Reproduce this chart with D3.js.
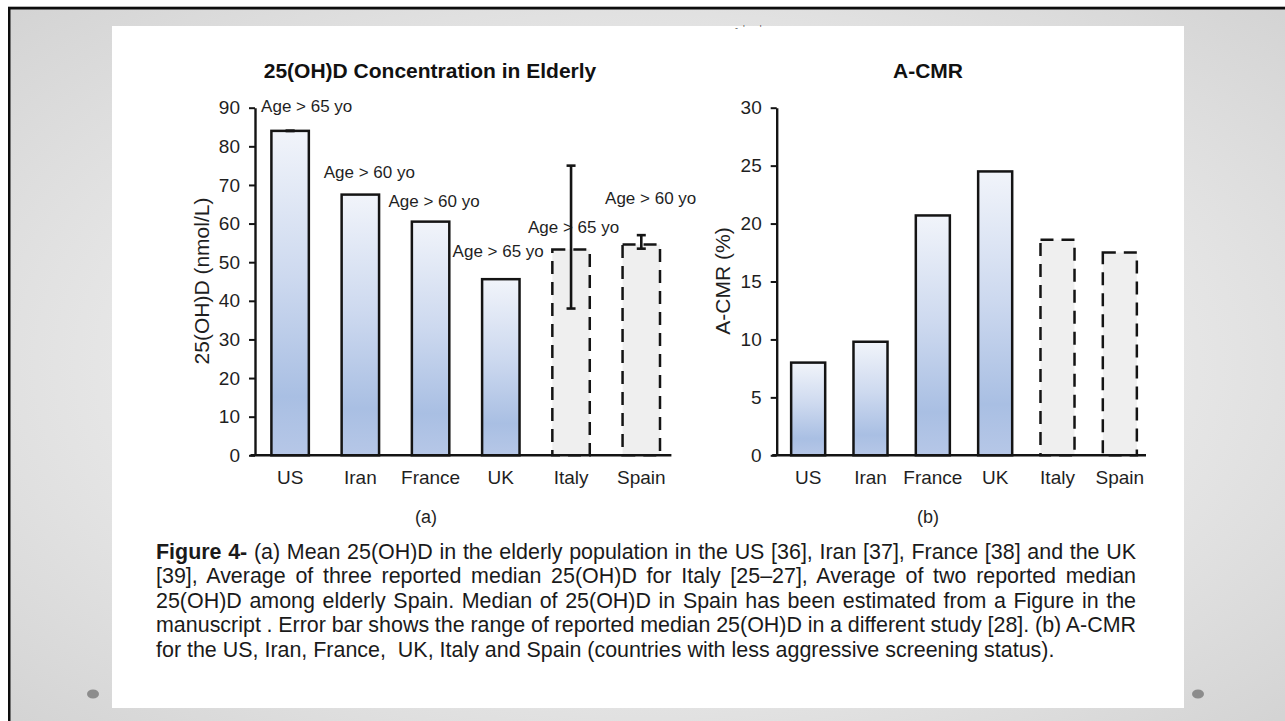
<!DOCTYPE html>
<html><head><meta charset="utf-8">
<script src="https://cdn.jsdelivr.net/npm/d3@7"></script>
<style>
html,body{margin:0;padding:0;background:#fff;}
svg{display:block;}
text{font-family:"Liberation Sans",Arial,Helvetica,sans-serif;}
</style>
</head><body>
<svg id="c" width="1285" height="721"></svg>
<script>
// ---------------- DATA ----------------
const categories = ["US", "Iran", "France", "UK", "Italy", "Spain"];
const estimated = [false, false, false, false, true, true];
const concValues = [84.0, 67.5, 60.5, 45.6, 53.3, 54.6];
const concErrLow = [84.0, null, null, null, 38.0, 53.5];
const concErrHigh = [84.0, null, null, null, 75.0, 57.0];
const ageLabels = ["Age > 65 yo", "Age > 60 yo", "Age > 60 yo", "Age > 65 yo", "Age > 65 yo", "Age > 60 yo"];
const acmrValues = [8.0, 9.8, 20.7, 24.5, 18.6, 17.5];
const concTicks = [0, 10, 20, 30, 40, 50, 60, 70, 80, 90];
const acmrTicks = [0, 5, 10, 15, 20, 25, 30];
const leftTitle = "25(OH)D Concentration in Elderly";
const rightTitle = "A-CMR";
const leftYTitle = "25(OH)D (nmol/L)";
const rightYTitle = "A-CMR (%)";
const captionLines = [
  [{b: true, t: "Figure 4-"}, {b: false, t: " (a) Mean 25(OH)D in the elderly population in the US [36], Iran [37], France [38] and the UK"}],
  [{b: false, t: "[39], Average of three reported median 25(OH)D for Italy [25\u201327], Average of two reported median"}],
  [{b: false, t: "25(OH)D among elderly Spain. Median of 25(OH)D in Spain has been estimated from a Figure in the"}],
  [{b: false, t: "manuscript . Error bar shows the range of reported median 25(OH)D in a different study [28]. (b) A-CMR"}],
  [{b: false, t: "for the US, Iran, France,  UK, Italy and Spain (countries with less aggressive screening status)."}]
];

// ---------------- LAYOUT ----------------
const ageLabelDx = [16.6, 9, 3.5, -2.6, 2.5, 9.4];
const ageLabelDy = [19.3, 17, 15, 21.7, 16.6, 40];
const ink = "#141414", txt = "#1f1f1f";

const svg = d3.select("#c");
const defs = svg.append("defs");
const bg = defs.append("radialGradient").attr("id", "bgGrad")
  .attr("cx", "50%").attr("cy", "50%").attr("r", "70%");
bg.append("stop").attr("offset", "0%").attr("stop-color", "#f3f3f3");
bg.append("stop").attr("offset", "55%").attr("stop-color", "#e8e8e8");
bg.append("stop").attr("offset", "100%").attr("stop-color", "#d4d4d4");
const bar = defs.append("linearGradient").attr("id", "barGrad")
  .attr("x1", 0).attr("y1", 0).attr("x2", 0).attr("y2", 1);
bar.append("stop").attr("offset", "0%").attr("stop-color", "#f1f4fa");
bar.append("stop").attr("offset", "45%").attr("stop-color", "#cdd9ef");
bar.append("stop").attr("offset", "82%").attr("stop-color", "#a9bfe3");
bar.append("stop").attr("offset", "100%").attr("stop-color", "#b6c7e7");

// slide background
svg.append("rect").attr("width", 1285).attr("height", 721).attr("fill", "#fff");
svg.append("rect").attr("x", 8).attr("y", 6.7).attr("width", 1277).attr("height", 715).attr("fill", "#0d0d0d");
svg.append("rect").attr("x", 10.5).attr("y", 9.5).attr("width", 1275).attr("height", 712).attr("fill", "url(#bgGrad)");
svg.append("rect").attr("x", 112).attr("y", 26).attr("width", 1072).attr("height", 682).attr("fill", "#fff");
svg.append("ellipse").attr("cx", 93).attr("cy", 694).attr("rx", 6).attr("ry", 4.6).attr("fill", "#8c8c8c");
svg.append("ellipse").attr("cx", 1198).attr("cy", 694).attr("rx", 6).attr("ry", 4.6).attr("fill", "#8c8c8c");
svg.append("text").attr("x", 735).attr("y", 31).attr("font-size", 9).attr("fill", "#555")
  .style("white-space", "pre").text("-  '      '");

function panel(cfg) {
  const g = svg.append("g");
  const x = d3.scaleBand().domain(categories).range(cfg.xr)
    .paddingInner(cfg.pad).paddingOuter(cfg.pad / 2);
  const y = d3.scaleLinear().domain([0, d3.max(cfg.ticks)]).range([455.3, 107.7]);
  const bw = x.bandwidth();

  // bars
  g.selectAll("rect.bar").data(categories).join("rect").attr("class", "bar")
    .attr("x", d => x(d)).attr("width", bw)
    .attr("y", (d, i) => y(cfg.values[i]))
    .attr("height", (d, i) => y(0) - y(cfg.values[i]))
    .attr("fill", (d, i) => estimated[i] ? "#efefef" : "url(#barGrad)")
    .attr("stroke", ink).attr("stroke-width", 2.5)
    .attr("stroke-dasharray", (d, i) => estimated[i] ? "13,8" : null);

  // y axis
  const ya = g.append("g").attr("transform", `translate(${cfg.yAxisX},0)`)
    .call(d3.axisLeft(y).tickValues(cfg.ticks).tickSize(6).tickPadding(9).tickSizeOuter(0).tickFormat(d3.format("d")));
  ya.select(".domain").attr("stroke", ink).attr("stroke-width", 2.4);
  ya.selectAll(".tick line").attr("stroke", ink).attr("stroke-width", 2);
  ya.selectAll(".tick text").attr("font-size", 19).attr("fill", txt)
    .attr("font-family", "Liberation Sans, Arial, sans-serif");

  // x axis
  const xa = g.append("g").attr("transform", `translate(0,${y(0)})`)
    .call(d3.axisBottom(x).tickSize(0).tickPadding(15));
  xa.select(".domain").remove();
  xa.selectAll(".tick text").attr("font-size", 19).attr("fill", txt)
    .attr("font-family", "Liberation Sans, Arial, sans-serif");
  g.append("line").attr("x1", cfg.yAxisX - 4.5).attr("x2", cfg.xr[1] - 5)
    .attr("y1", y(0)).attr("y2", y(0)).attr("stroke", ink).attr("stroke-width", 2.4);

  // labels
  if (cfg.labels) {
    g.selectAll("text.age").data(categories).join("text").attr("class", "age")
      .attr("x", (d, i) => x(d) + bw / 2 + ageLabelDx[i])
      .attr("y", (d, i) => y(cfg.values[i]) - ageLabelDy[i])
      .attr("text-anchor", "middle").attr("font-size", 17).attr("fill", txt)
      .text((d, i) => cfg.labels[i]);
  }
  // error bars
  if (cfg.lo) {
    const eb = categories.map((c, i) => ({c, lo: cfg.lo[i], hi: cfg.hi[i]})).filter(d => d.lo != null);
    const eg = g.selectAll("g.err").data(eb).join("g").attr("class", "err")
      .attr("transform", d => `translate(${x(d.c) + bw / 2},0)`);
    eg.append("line").attr("y1", d => y(d.lo)).attr("y2", d => y(d.hi))
      .attr("stroke", ink).attr("stroke-width", 2.6);
    eg.append("line").attr("x1", -4.5).attr("x2", 4.5).attr("y1", d => y(d.lo)).attr("y2", d => y(d.lo))
      .attr("stroke", ink).attr("stroke-width", 2.6);
    eg.append("line").attr("x1", -4.5).attr("x2", 4.5).attr("y1", d => y(d.hi)).attr("y2", d => y(d.hi))
      .attr("stroke", ink).attr("stroke-width", 2.6);
  }

  // titles
  g.append("text").attr("x", cfg.titleX).attr("y", 78.3).attr("text-anchor", "middle")
    .attr("font-size", 21).attr("font-weight", "bold").attr("fill", "#111").text(cfg.title);
  g.append("text").attr("transform", `translate(${cfg.yTitleX},281) rotate(-90)`)
    .attr("text-anchor", "middle").attr("dy", "0.35em").attr("font-size", 21).attr("fill", txt)
    .text(cfg.yTitle);
  g.append("text").attr("x", cfg.subX).attr("y", 523).attr("text-anchor", "middle")
    .attr("font-size", 18).attr("fill", txt).text(cfg.sub);
}

panel({xr: [255, 676.4], pad: 0.467, yAxisX: 255, values: concValues, ticks: concTicks,
  labels: ageLabels, lo: concErrLow, hi: concErrHigh, title: leftTitle, titleX: 430,
  yTitle: leftYTitle, yTitleX: 202, sub: "(a)", subX: 426});
panel({xr: [777, 1151], pad: 0.454, yAxisX: 776.7, values: acmrValues, ticks: acmrTicks,
  title: rightTitle, titleX: 928, yTitle: rightYTitle, yTitleX: 722.5, sub: "(b)", subX: 928});

// caption
const capX = 156, capW = 980, capY0 = 558.5, capLH = 24.6;
const capG = svg.append("g").attr("fill", "#1a1a1a");
let fs = 17;
const probe = capG.append("text").attr("font-size", fs).style("white-space", "pre")
  .text(captionLines[4][0].t);
const natural = probe.node().getComputedTextLength();
probe.remove();
fs = fs * 899 / natural;
captionLines.forEach((parts, i) => {
  const t = capG.append("text").attr("x", capX).attr("y", capY0 + i * capLH)
    .attr("font-size", fs.toFixed(2)).style("white-space", "pre");
  parts.forEach(p => t.append("tspan").attr("font-weight", p.b ? "bold" : null).text(p.t));
  if (i < captionLines.length - 1) {
    const w = t.node().getComputedTextLength();
    const full = parts.map(p => p.t).join("");
    const spaces = (full.match(/ /g) || []).length;
    t.style("word-spacing", ((capW - w) / spaces).toFixed(3) + "px");
  }
});
</script>
</body></html>
